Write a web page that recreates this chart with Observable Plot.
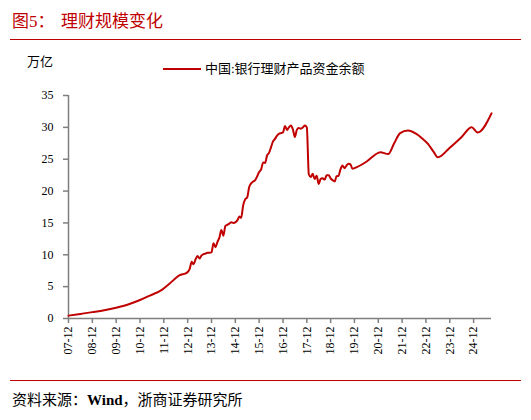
<!doctype html>
<html>
<head>
<meta charset="utf-8">
<style>
  body { margin: 0; background: #fff; }
  #page { position: relative; width: 531px; height: 420px; font-family: "Liberation Serif", "Noto Sans CJK SC", serif; color: #000; }
  .abs { position: absolute; white-space: nowrap; }
  .red { color: #c00000; }
  .rule { position: absolute; background: #c00000; height: 1px; }
</style>
</head>
<body>
<div id="page">
  <div class="abs red" style="left:12px; top:11px; font-size:17px; line-height:22px;">图5：</div>
  <div class="abs red" style="left:61px; top:11px; font-size:17px; line-height:22px;">理财规模变化</div>
  <div class="rule" style="left:10px; top:39px; width:511px;"></div>
  <div class="abs" style="left:27px; top:54px; font-size:13px; line-height:16px;">万亿</div>
  <div class="abs" style="left:163px; top:68px; width:38px; height:2px; background:#c00000;"></div>
  <div class="abs" style="left:205px; top:61px; font-size:13px; line-height:16px;">中国:银行理财产品资金余额</div>
  <div id="myplot" class="abs" style="left:0; top:80px;"></div>
  <div class="rule" style="left:10px; top:380px; width:511px;"></div>
  <div class="abs" style="left:12px; top:390px; font-size:15px; line-height:20px;">资料来源：<b style="font-weight:bold">Wind</b>，浙商证券研究所</div>
</div>
<script src="https://cdn.jsdelivr.net/npm/d3@7"></script>
<script src="https://cdn.jsdelivr.net/npm/@observablehq/plot@0.6"></script>
<script type="module">
  // month-end balance (万亿)
  const months = [
    "2007-12", "2008-06", "2008-12", "2009-06", "2009-12", "2010-06", "2010-12",
    "2011-05", "2011-11", "2012-03", "2012-08", "2012-11", "2012-12",
    "2013-01", "2013-02", "2013-03", "2013-04", "2013-05", "2013-06",
    "2013-07", "2013-08", "2013-09", "2013-10", "2013-11", "2013-12",
    "2014-01", "2014-02", "2014-03", "2014-04", "2014-05", "2014-06",
    "2014-07", "2014-08", "2014-09", "2014-10", "2014-11", "2014-12",
    "2015-01", "2015-02", "2015-03", "2015-04", "2015-05", "2015-06",
    "2015-07", "2015-08", "2015-09", "2015-10", "2015-11", "2015-12",
    "2016-01", "2016-02", "2016-03", "2016-04", "2016-05", "2016-06",
    "2016-07", "2016-08", "2016-09", "2016-10", "2016-11", "2016-12",
    "2017-01", "2017-02", "2017-03", "2017-04", "2017-05", "2017-06",
    "2017-07", "2017-08", "2017-09", "2017-10", "2017-11", "2017-12",
    "2018-01", "2018-02", "2018-03", "2018-04", "2018-05", "2018-06",
    "2018-07", "2018-08", "2018-09", "2018-10", "2018-11", "2018-12",
    "2019-01", "2019-02", "2019-03", "2019-04", "2019-05", "2019-06",
    "2019-07", "2019-08", "2019-09", "2019-10", "2019-11", "2019-12",
    "2020-06", "2020-12", "2021-01", "2021-05", "2021-08", "2021-11",
    "2022-03", "2022-07", "2022-10", "2023-01", "2023-04", "2023-06",
    "2023-12", "2024-06", "2024-11", "2025-02", "2025-09"
  ];
  const balance = [
    0.45, 0.72, 1.0, 1.3, 1.7, 2.2, 2.9,
    3.6, 4.5, 5.5, 6.8, 7.1, 7.3,
    7.8, 8.9, 8.5, 9.3, 9.8, 9.4,
    9.9, 10.1, 10.2, 10.3, 10.3, 10.4,
    11.8, 11.2, 12.0, 12.7, 13.9, 13.0,
    14.5, 14.7, 14.9, 15.1, 15.0, 15.1,
    15.4, 16.0, 15.8, 17.8, 18.7, 19.0,
    20.6, 21.2, 21.5, 21.7, 22.3, 23.0,
    23.4, 24.5, 24.4, 25.6, 26.0, 26.9,
    27.8, 28.2, 28.7, 29.0, 29.1, 29.2,
    30.2, 29.6, 30.0, 30.3, 29.7, 28.5,
    29.6, 29.9, 29.8, 30.0, 30.3, 30.0,
    22.6, 22.2, 22.7, 21.9, 22.4, 21.1,
    21.9, 22.0, 21.8, 22.5, 22.5, 22.0,
    21.7, 21.5, 22.3, 22.4, 23.4, 24.0,
    23.6, 24.0, 24.3, 24.2, 23.5, 23.6,
    24.6, 26.0, 26.1, 25.8, 27.5, 29.1,
    29.5, 29.0, 28.3, 27.4, 26.1, 25.3,
    26.8, 28.5, 30.0, 29.2, 32.2
  ];
  const xTicks = ["2007-12", "2008-12", "2009-12", "2010-12", "2011-12", "2012-12",
    "2013-12", "2014-12", "2015-12", "2016-12", "2017-12", "2018-12", "2019-12",
    "2020-12", "2021-12", "2022-12", "2023-12", "2024-12"];
  const yTicks = [0, 5, 10, 15, 20, 25, 30, 35];

  const parse = d3.utcParse("%Y-%m");
  const data = months.map((m, i) => ({ date: parse(m), value: balance[i] }));
  const axisColor = "#7f7f7f";

  const plot = Plot.plot({
    width: 531,
    height: 290,
    marginLeft: 68,
    marginRight: 40,
    marginTop: 15,
    marginBottom: 52,
    style: { fontFamily: "Liberation Serif, serif", fontSize: "12px", color: "#000", background: "transparent" },
    x: { type: "utc", domain: [parse("2007-12"), parse("2025-09")] },
    y: { domain: [0, 35] },
    marks: [
      Plot.ruleY([0], { stroke: axisColor, strokeWidth: 1.5 }),
      Plot.ruleX([parse("2007-12")], { stroke: axisColor, strokeWidth: 1.5 }),
      Plot.axisY({ ticks: yTicks, tickSize: 5, tickPadding: 10, stroke: axisColor, strokeWidth: 1.5, label: null }),
      Plot.axisX({ ticks: xTicks.map(parse), tickFormat: d3.utcFormat("%y-%m"), tickSize: 5, tickPadding: 3,
        tickRotate: -90, stroke: axisColor, strokeWidth: 1.5, label: null }),
      Plot.line(data, { x: "date", y: "value", stroke: "#c00000", strokeWidth: 2, curve: "monotone-x" })
    ]
  });

  document.querySelector("#myplot").append(plot);
</script>
</body>
</html>
